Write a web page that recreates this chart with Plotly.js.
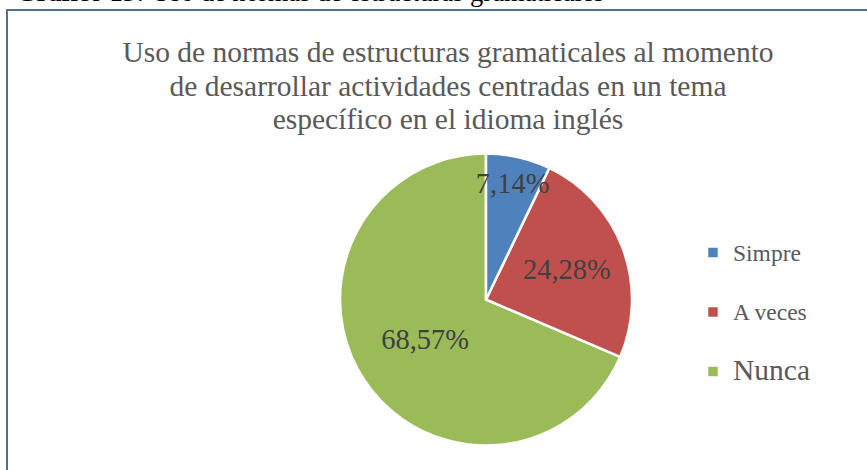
<!DOCTYPE html>
<html>
<head>
<meta charset="utf-8">
<script src="https://cdn.plot.ly/plotly-3.0.1.min.js"></script>
<style>html,body{margin:0;padding:0;background:#fff;}#chart{width:867px;height:470px;}</style>
</head>
<body>
<div id="chart"></div>
<script>
var categories = ["Simpre", "A veces", "Nunca"];
var values = [7.14, 24.28, 68.57];
var colors = ["#4f81bd", "#c0504d", "#9bbb59"];
var legendSizes = [23.5, 23.5, 29.5];
var titleLines = ["Uso de normas de estructuras gramaticales al momento", "de desarrollar actividades centradas en un tema", "específico en el idioma inglés"];
var headerBold = "Gráfico 13:";
var headerText = " Uso de normas de estructuras gramaticales";

var W = 867, H = 470;
var cx = 486, cy = 299.5, R = 146;

// draw order reversed (counterclockwise) so the small slice's label is drawn on top;
// the rotation keeps the first category starting at 12 o'clock going clockwise
function rev(a){ return a.slice().reverse(); }
var total = values.reduce(function(s, v){ return s + v; }, 0);
var rotation = 360 * (total - values[values.length - 1]) / total;
var names = categories.map(function(c, i){
  return '<span style="font-size:' + legendSizes[i] + 'px">' + c + '</span><br> ';
});

var trace = {
  type: 'pie',
  labels: rev(names),
  values: rev(values),
  sort: false,
  direction: 'counterclockwise',
  rotation: rotation,
  marker: {colors: rev(colors), line: {color: '#ffffff', width: 2.5}},
  texttemplate: '%{value:.2f}%',
  textposition: 'inside',
  insidetextorientation: 'horizontal',
  textfont: {family: 'Liberation Serif', size: 28.5, color: '#404040'},
  hoverinfo: 'none',
  domain: {x: [(cx - R) / W, (cx + R) / W], y: [(H - cy - R) / H, (H - cy + R) / H]}
};

var layout = {
  width: W, height: H,
  margin: {l: 0, r: 0, t: 0, b: 0},
  paper_bgcolor: '#ffffff',
  separators: ',.',
  font: {family: 'Liberation Serif', color: '#595959'},
  uniformtext: {mode: 'show', minsize: 28.5},
  title: {
    text: titleLines.map(function(l){ return '<span style="font-size:29.5px">' + l + '</span>'; }).join('<br>'),
    font: {family: 'Liberation Serif', size: 25.8, color: '#595959'},
    x: 448 / W, xanchor: 'center',
    y: 1 - 62 / H, yanchor: 'top', yref: 'container'
  },
  showlegend: true,
  legend: {
    x: 693 / W, xanchor: 'left',
    y: 1 - 232 / H, yanchor: 'top',
    valign: 'top',
    traceorder: 'reversed',
    font: {family: 'Liberation Serif', size: 21.7, color: '#595959'},
    bgcolor: 'rgba(0,0,0,0)'
  },
  shapes: [{
    type: 'rect', xref: 'paper', yref: 'paper',
    x0: 7 / W, x1: 1.05, y0: -0.05, y1: 1 - 10 / H,
    line: {color: '#56708f', width: 2}, fillcolor: 'rgba(0,0,0,0)', layer: 'below'
  }],
  annotations: [{
    xref: 'paper', yref: 'paper', x: 14 / W, xanchor: 'left',
    y: 1 + 8 / H, yanchor: 'middle', showarrow: false,
    text: '<b>' + headerBold + '</b>' + headerText,
    font: {family: 'Liberation Serif', size: 26.5, color: '#000000'}
  }]
};

Plotly.newPlot('chart', [trace], layout, {displayModeBar: false, staticPlot: true});
</script>
</body>
</html>
